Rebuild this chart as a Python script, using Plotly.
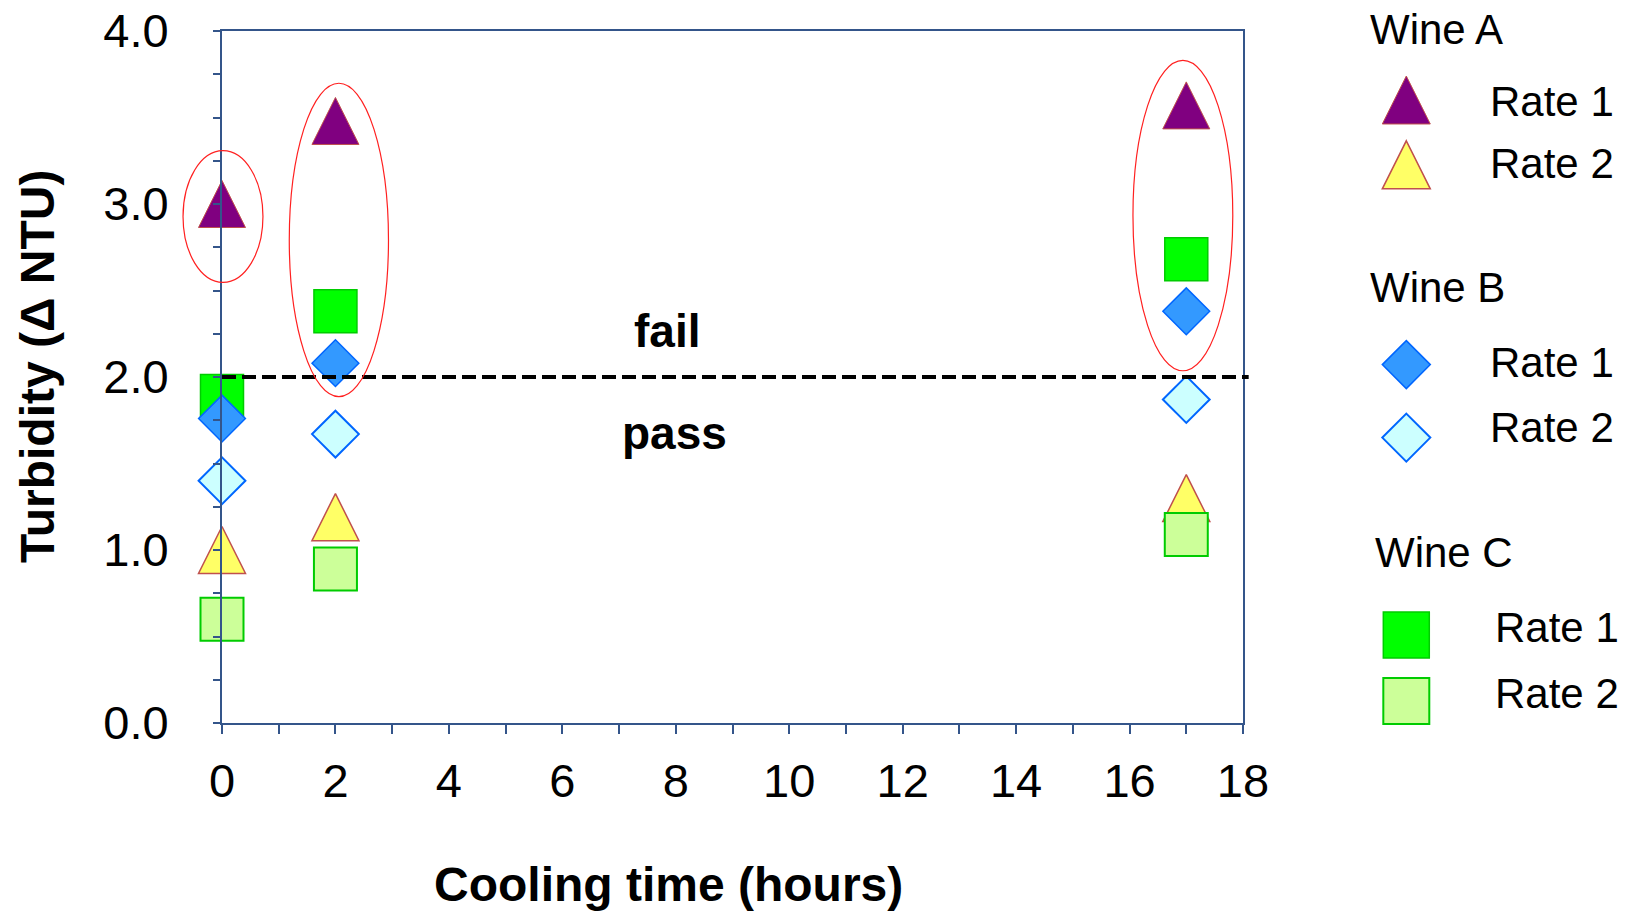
import plotly.graph_objects as go

W, H = 1632, 913
OFF = 0  # page body margin is removed below, so no offset is needed

# ---------------- data ----------------
hours = [0, 2, 17]
wine_a_rate1 = [3.0, 3.48, 3.57]
wine_a_rate2 = [1.0, 1.19, 1.3]
wine_b_rate1 = [1.76, 2.08, 2.38]
wine_b_rate2 = [1.4, 1.67, 1.87]
wine_c_rate1 = [1.89, 2.38, 2.68]
wine_c_rate2 = [0.6, 0.89, 1.09]

x_tick_step = 2
y_tick_step = 1

threshold = 2.0
threshold_x = [0, 18.1]

# highlight ellipses (data units)
ellipse_x0 = [-0.687, 1.186, 16.06]
ellipse_x1 = [0.722, 2.935, 17.82]
ellipse_y0 = [2.547, 1.886, 2.036]
ellipse_y1 = [3.308, 3.698, 3.83]

x_title = "Cooling time (hours)"
y_title = "Turbidity (Δ NTU)"
group_names = ["Wine A", "Wine B", "Wine C"]
rate_names = ["Rate 1", "Rate 2"]

# ---------------- layout geometry (reference pixel frame) ----------------
PL, PR, PT, PB = 221.7, 1243.3, 31.0, 723.0
X_RANGE = [0, 18]
Y_RANGE = [0, 4]
px_per_x = (PR - PL) / (X_RANGE[1] - X_RANGE[0])
px_per_y = (PB - PT) / (Y_RANGE[1] - Y_RANGE[0])


def xpaper(x):
    return (x - X_RANGE[0]) / (X_RANGE[1] - X_RANGE[0])


def ypaper(y):
    return (y - Y_RANGE[0]) / (Y_RANGE[1] - Y_RANGE[0])


def px2paper(px, py):
    return (px - PL) / (PR - PL), (PB - py) / (PB - PT)


FONT = "Liberation Sans, Arial, sans-serif"
AXIS_COLOR = "#34558A"
TRI = 47          # triangle marker size (px)
DIA = 36          # diamond marker size
SQ = 43           # square marker size
tri_shift = (TRI / 2) / px_per_y

styles = {
    "A1": dict(symbol="arrow-up", size=TRI, color="#800080", line=dict(color="#C0504D", width=1)),
    "A2": dict(symbol="arrow-up", size=TRI, color="#FFFF66", line=dict(color="#C0504D", width=1.5)),
    "B1": dict(symbol="diamond", size=DIA, color="#3399FF", line=dict(color="#0066FF", width=1.5)),
    "B2": dict(symbol="diamond", size=DIA, color="#CCFFFF", line=dict(color="#0066FF", width=2)),
    "C1": dict(symbol="square", size=SQ, color="#00FF00", line=dict(color="#00CC00", width=1.5)),
    "C2": dict(symbol="square", size=SQ, color="#CCFF99", line=dict(color="#00CC00", width=2)),
}
series = {"A1": wine_a_rate1, "A2": wine_a_rate2, "B1": wine_b_rate1,
          "B2": wine_b_rate2, "C1": wine_c_rate1, "C2": wine_c_rate2}

fig = go.Figure()

# invisible anchor trace for the base axes
fig.add_trace(go.Scatter(x=X_RANGE, y=Y_RANGE, mode="markers", marker=dict(opacity=0),
                         showlegend=False, hoverinfo="skip"))

# triangles (on shifted overlay axis so the marker box is centred on the value)
for key in ["A1", "A2"]:
    fig.add_trace(go.Scatter(x=hours, y=series[key], mode="markers", marker=styles[key],
                             yaxis="y2", cliponaxis=False, showlegend=False))
# squares and diamonds
for key in ["C1", "C2", "B1", "B2"]:
    fig.add_trace(go.Scatter(x=hours, y=series[key], mode="markers", marker=styles[key],
                             yaxis="y3", cliponaxis=False, showlegend=False))

# threshold line
fig.add_shape(type="line", xref="paper", yref="paper",
              x0=xpaper(threshold_x[0]), x1=xpaper(threshold_x[1]),
              y0=ypaper(threshold), y1=ypaper(threshold),
              line=dict(color="black", width=4, dash="14px,6px"), layer="above")

# highlight ellipses
for i in range(len(ellipse_x0)):
    fig.add_shape(type="circle", xref="paper", yref="paper",
                  x0=xpaper(ellipse_x0[i]), x1=xpaper(ellipse_x1[i]),
                  y0=ypaper(ellipse_y0[i]), y1=ypaper(ellipse_y1[i]),
                  line=dict(color="#FF2020", width=1.2), layer="above")

# fail / pass labels
label_x = [7.84, 7.98]
label_y = [2.266, 1.676]
for txt, lx, ly in zip(["fail", "pass"], label_x, label_y):
    fig.add_annotation(text=f"<b>{txt}</b>", x=lx, y=ly, xref="x", yref="y",
                       showarrow=False, font=dict(family=FONT, size=46, color="black"),
                       xanchor="center", yanchor="middle")

# ---------------- custom legend ----------------
LEG_MX = 1406.7
leg_rows = {"A1": 100.0, "A2": 164.8, "B1": 364.6, "B2": 437.6, "C1": 635.0, "C2": 701.0}
LEG_TRI = 48
LEG_DIA = 48
LEG_SQ = 46


def path_from_px(points):
    parts = []
    for i, (px, py) in enumerate(points):
        xp, yp = px2paper(px, py)
        parts.append(("M" if i == 0 else "L") + f"{xp:.5f},{yp:.5f}")
    return " ".join(parts) + " Z"


for key in ["A1", "A2", "B1", "B2", "C1", "C2"]:
    st = styles[key]
    cx, cy = LEG_MX, leg_rows[key]
    if st["symbol"] == "arrow-up":
        h = LEG_TRI / 2
        pts = [(cx, cy - h), (cx + h, cy + h), (cx - h, cy + h)]
    elif st["symbol"] == "diamond":
        h = LEG_DIA / 2
        pts = [(cx, cy - h), (cx + h, cy), (cx, cy + h), (cx - h, cy)]
    else:
        h = LEG_SQ / 2
        pts = [(cx - h, cy - h), (cx + h, cy - h), (cx + h, cy + h), (cx - h, cy + h)]
    fig.add_shape(type="path", xref="paper", yref="paper", path=path_from_px(pts),
                  fillcolor=st["color"], line=dict(color=st["line"]["color"], width=st["line"]["width"]),
                  layer="above")

leg_texts = [
    (group_names[0], 1368.0, 29.5),
    (rate_names[0], 1488.5, 101.0),
    (rate_names[1], 1488.5, 163.5),
    (group_names[1], 1368.0, 287.5),
    (rate_names[0], 1488.5, 362.0),
    (rate_names[1], 1488.5, 427.0),
    (group_names[2], 1373.0, 552.7),
    (rate_names[0], 1493.5, 627.6),
    (rate_names[1], 1493.5, 693.0),
]
for txt, tx, ty in leg_texts:
    ax_, ay_ = px2paper(tx, ty)
    fig.add_annotation(text=txt, x=ax_, y=ay_, xref="paper", yref="paper",
                       showarrow=False, xanchor="left", yanchor="middle",
                       font=dict(family=FONT, size=42, color="black"))

# axis titles
tx_, ty_ = px2paper(668, 884.5)
fig.add_annotation(text=f"<b>{x_title}</b>", x=tx_, y=ty_, xref="paper", yref="paper",
                   showarrow=False, xanchor="center", yanchor="middle",
                   font=dict(family=FONT, size=48, color="black"))
tx_, ty_ = px2paper(36.7, 366.0)
fig.add_annotation(text=f"<b>{y_title}</b>", x=tx_, y=ty_, xref="paper", yref="paper",
                   showarrow=False, xanchor="center", yanchor="middle", textangle=-90,
                   font=dict(family=FONT, size=48, color="black"))

tick_font = dict(family=FONT, size=47, color="black")
fig.update_layout(
    width=W - OFF, height=H - OFF, autosize=False,
    margin=dict(l=PL - OFF, r=W - PR, t=PT - OFF, b=H - PB, pad=0, autoexpand=False),
    paper_bgcolor="white", plot_bgcolor="white",
    showlegend=False,
    xaxis=dict(range=X_RANGE, tickmode="linear", tick0=0, dtick=x_tick_step,
               ticks="outside", ticklen=9, tickwidth=1.5, tickcolor=AXIS_COLOR,
               minor=dict(dtick=1, tick0=0, ticks="outside", ticklen=9, tickwidth=1.5, tickcolor=AXIS_COLOR),
               showline=True, linecolor=AXIS_COLOR, linewidth=2, mirror=True,
               showgrid=False, zeroline=False, tickfont=tick_font, ticklabelstandoff=7,
               ticklabeloverflow="allow"),
    yaxis=dict(range=Y_RANGE, tickmode="linear", tick0=0, dtick=y_tick_step, tickformat=".1f",
               ticks="outside", ticklen=7, tickwidth=1.5, tickcolor=AXIS_COLOR,
               minor=dict(dtick=0.25, tick0=0, ticks="outside", ticklen=7, tickwidth=1.5, tickcolor=AXIS_COLOR),
               showline=True, linecolor=AXIS_COLOR, linewidth=2, mirror=True,
               showgrid=False, zeroline=False, tickfont=tick_font, ticklabelstandoff=35,
               ticklabeloverflow="allow"),
    yaxis2=dict(overlaying="y", anchor="x", range=[Y_RANGE[0] - tri_shift, Y_RANGE[1] - tri_shift],
                visible=False),
    yaxis3=dict(overlaying="y", anchor="x", range=Y_RANGE, visible=False),
)

fig.write_html("out.html", config={"displayModeBar": False},
               post_script="document.body.style.margin='0px';")
